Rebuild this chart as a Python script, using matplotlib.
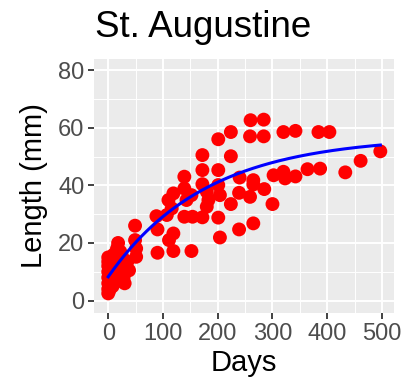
import numpy as np
import matplotlib
matplotlib.use("Agg")
import matplotlib.pyplot as plt

plt.rcParams["font.family"] = ["Liberation Sans", "DejaVu Sans"]

# age (days) and length (mm) of fish sampled at St. Augustine
days = [
    0, 0, 0, 0, 0, 0, 0, 0, 2, 3, 4, 5, 6, 8, 10, 10, 12, 13, 15, 16,
    18, 18, 20, 22, 24, 25, 28, 30, 32, 35, 38,
    49, 49, 51, 51,
    88, 90, 90, 107, 110, 111, 116, 119, 119, 119,
    139, 139, 139, 143, 152, 152, 154,
    172, 172, 172, 172, 180, 180, 183,
    201, 201, 201, 201, 204, 204, 224, 224, 224,
    239, 239, 240, 259, 259, 260, 265, 265, 265,
    284, 284, 285, 300, 302,
    320, 320, 323, 342, 342, 364, 384, 387, 404,
    433, 461, 497,
]
length = [
    2.5, 4.0, 6.0, 8.0, 10.0, 12.0, 13.5, 15.0, 3.5, 9.0, 7.0, 11.0, 14.0, 5.0, 8.5, 16.0, 12.5, 6.5, 10.0, 18.0,
    14.5, 20.0, 9.5, 17.0, 12.0, 15.5, 8.0, 6.0, 11.0, 13.5, 10.5,
    26.0, 21.0, 18.1, 15.2,
    29.3, 24.7, 16.6, 29.7, 34.9, 21.0, 32.0, 37.2, 23.3, 17.2,
    43.0, 38.9, 29.1, 34.9, 36.6, 17.2, 29.1,
    50.5, 45.3, 40.4, 28.9, 37.8, 32.6, 34.9,
    56.0, 45.3, 40.1, 28.8, 36.6, 21.9, 58.5, 50.1, 33.5,
    37.4, 24.7, 42.7, 57.0, 36.0, 62.6, 41.8, 40.3, 26.8,
    62.8, 57.0, 38.7, 33.5, 43.5,
    58.5, 44.7, 42.4, 58.9, 43.1, 45.6, 58.5, 45.8, 58.5,
    44.5, 48.5, 51.8,
]

# von Bertalanffy growth fit
L_inf = 57.0
K = 0.0056
t0 = -28.0

t_fit = np.linspace(0, 497, 200)
L_fit = L_inf * (1 - np.exp(-K * (t_fit - t0)))

fig = plt.figure(figsize=(4.08, 3.89), dpi=100)
ax = fig.add_axes([0.2304, 0.1954, 0.7353, 0.6526])
ax.set_facecolor("#EBEBEB")
for s in ax.spines.values():
    s.set_visible(False)

ax.set_xlim(-26, 522)
ax.set_ylim(-4.3, 83.8)
ax.set_xticks([0, 100, 200, 300, 400, 500])
ax.set_yticks([0, 20, 40, 60, 80])
ax.set_xticks([50, 150, 250, 350, 450], minor=True)
ax.set_yticks([10, 30, 50, 70], minor=True)
ax.grid(which="major", color="white", linewidth=1.4)
ax.grid(which="minor", color="white", linewidth=0.7)
ax.set_axisbelow(True)
ax.tick_params(which="major", length=4, width=1.3, color="#333333",
               labelsize=17, labelcolor="#4D4D4D", pad=3)
ax.tick_params(which="minor", length=0)

ax.scatter(days, length, s=100, color="#FF0000", edgecolors="none", zorder=3)
ax.plot(t_fit, L_fit, color="#0000FF", linewidth=2.2, zorder=4)

ax.set_xlabel("Days", fontsize=21, color="black", labelpad=3)
ax.set_ylabel("Length (mm)", fontsize=21, color="black", labelpad=7)
fig.text(0.233, 0.905, "St. Augustine", fontsize=26.5, color="black",
         ha="left", va="baseline")

fig.savefig("out.png", dpi=100)
